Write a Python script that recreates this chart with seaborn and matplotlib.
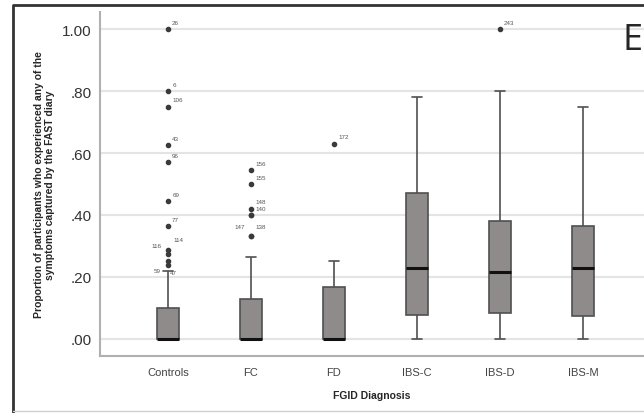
import numpy as np
import pandas as pd
import matplotlib
matplotlib.use("Agg")
import matplotlib.pyplot as plt
from matplotlib.lines import Line2D
import seaborn as sns

# five-number summaries (whisker low, Q1, median, Q3, whisker high)
groups = ["Controls", "FC", "FD", "IBS-C", "IBS-D", "IBS-M"]
whisker_low = [0.00, 0.00, 0.00, 0.00, 0.00, 0.00]
q1 = [0.00, 0.00, 0.00, 0.077, 0.083, 0.073]
median = [0.00, 0.00, 0.00, 0.23, 0.216, 0.23]
q3 = [0.10, 0.13, 0.168, 0.47, 0.38, 0.366]
whisker_high = [0.22, 0.265, 0.25, 0.78, 0.80, 0.75]

# outliers (group, value, case id)
out_group = ["Controls"] * 11 + ["FC"] * 7 + ["FD", "IBS-D"]
out_value = [1.00, 0.80, 0.75, 0.625, 0.571, 0.444, 0.364, 0.286, 0.273, 0.25, 0.24,
             0.545, 0.50, 0.42, 0.40, 0.40, 0.333, 0.333,
             0.63, 1.00]
out_id = ["26", "6", "106", "43", "96", "69", "77", "114", "116", "59", "47",
          "156", "155", "148", "140", "", "147", "138",
          "172", "243"]

rows = []
for g, a, b, c, d, e in zip(groups, whisker_low, q1, median, q3, whisker_high):
    for v in (a, b, c, d, e):
        rows.append({"group": g, "value": v})
df = pd.DataFrame(rows)
outliers = pd.DataFrame({"group": out_group, "value": out_value, "id": out_id})

sns.set_style("white")
plt.rcParams["font.family"] = ["Liberation Sans", "DejaVu Sans"]

fig = plt.figure(figsize=(6.44, 4.14), dpi=100)
ax = fig.add_axes([0.1553, 0.1377, 0.8447, 0.8309])

for y in np.arange(0, 1.01, 0.2):
    ax.axhline(y, color="#e4e4e4", linewidth=1.5, zorder=0)

sns.boxplot(data=df, x="group", y="value", order=groups, whis=(0, 100),
            width=0.27, color="#8f8b8b", saturation=1, linecolor="#505050",
            linewidth=1.2, showfliers=False, capwidths=0.12,
            medianprops={"color": "#111111", "linewidth": 2.2}, ax=ax, zorder=2)

xpos = {g: i for i, g in enumerate(groups)}
ox = outliers["group"].map(xpos)
ax.scatter(ox, outliers["value"], s=9, color="#3a3a3a", zorder=3)

# a few case labels sit elsewhere than upper right
label_shift = {"114": (0.06, 0.035), "116": (-0.2, 0.03), "59": (-0.17, -0.028),
               "47": (0.02, -0.024), "147": (-0.2, 0.03), "138": (0.05, 0.03)}
for x, y, t in zip(ox, outliers["value"], outliers["id"]):
    dx, dy = label_shift.get(t, (0.05, 0.022))
    ax.text(x + dx, y + dy, t, fontsize=4.5, color="#555555", ha="left", va="center")

ax.set_xlim(-0.819, 5.735)
ax.set_ylim(-0.055, 1.055)
ax.set_yticks([0, 0.2, 0.4, 0.6, 0.8, 1.0])
ax.set_yticklabels([".00", ".20", ".40", ".60", ".80", "1.00"], fontsize=11, color="#333333")
ax.tick_params(axis="x", labelsize=8, colors="#444444", length=0, pad=8)
ax.tick_params(axis="y", length=0, pad=6)
ax.set_xlabel("FGID Diagnosis", fontsize=7.5, fontweight="bold", labelpad=9)
ax.set_ylabel("Proportion of participants who experienced any of the\nsymptoms captured by the FAST diary",
              fontsize=7.5, fontweight="bold", labelpad=5, linespacing=1.1)
for s in ["top", "right"]:
    ax.spines[s].set_visible(False)
for s in ["left", "bottom"]:
    ax.spines[s].set_color("#b0b0b0")
    ax.spines[s].set_linewidth(1.5)

# panel letter and outer frame
fig.text(0.982, 0.9, "E", fontsize=26, ha="center", va="center", family=["Open Sans", "DejaVu Sans"])
fig.add_artist(Line2D([0.0202, 0.0202, 1.0], [0.0, 0.9855, 0.9855], color="#333333", linewidth=2))
fig.add_artist(Line2D([0.0202, 1.0], [0.005, 0.005], color="#d0d0d0", linewidth=1))

fig.savefig("out.png", dpi=100)
